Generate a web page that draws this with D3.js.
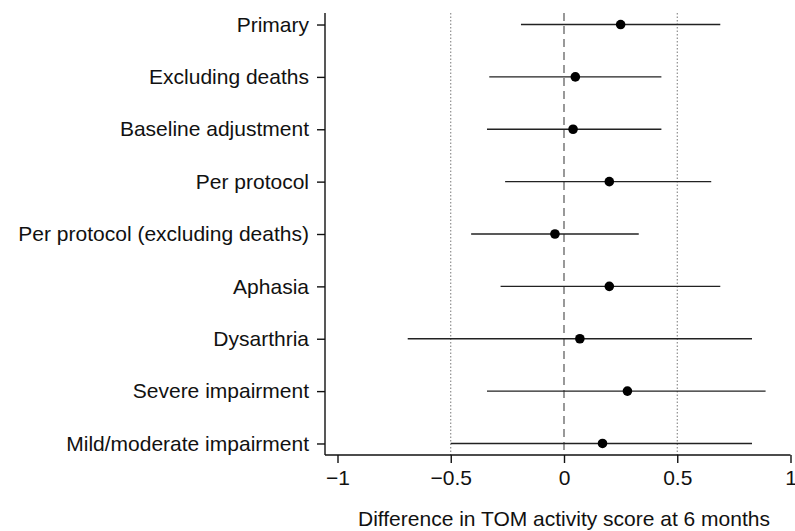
<!DOCTYPE html>
<html>
<head>
<meta charset="utf-8">
<script src="https://cdn.jsdelivr.net/npm/d3@7"></script>
<style>
  body { margin: 0; background: #fff; }
  text { font-family: "Liberation Sans", Arial, sans-serif; fill: #111; }
</style>
</head>
<body>
<div id="chart"></div>
<script>
var labels = ["Primary", "Excluding deaths", "Baseline adjustment", "Per protocol",
    "Per protocol (excluding deaths)", "Aphasia", "Dysarthria", "Severe impairment",
    "Mild/moderate impairment"];
var estimate = [0.25, 0.05, 0.04, 0.20, -0.04, 0.20, 0.07, 0.28, 0.17];
var lower = [-0.19, -0.33, -0.34, -0.26, -0.41, -0.28, -0.69, -0.34, -0.50];
var upper = [0.69, 0.43, 0.43, 0.65, 0.33, 0.69, 0.83, 0.89, 0.83];
var xTicks = [-1, -0.5, 0, 0.5, 1];
var refLines = [-0.5, 0.5];

var W = 795, H = 531;
var fontSize = "21px";
var svg = d3.select("#chart").append("svg")
    .attr("width", W)
    .attr("height", H);

var x = d3.scaleLinear().domain([-1, 1]).range([337.5, 790.5]);
var y = d3.scalePoint().domain(labels).range([13, 455]).padding(0.22);

var rows = labels.map(function(l, i){
    return { label: l, est: estimate[i], lo: lower[i], hi: upper[i] };
});

// reference lines
svg.selectAll(".ref")
    .data(refLines)
    .enter().append("line")
    .attr("class", "ref")
    .attr("x1", function(d){ return x(d); })
    .attr("x2", function(d){ return x(d); })
    .attr("y1", 13).attr("y2", 455)
    .style("stroke", "#777")
    .style("stroke-width", 1)
    .style("stroke-dasharray", "1.5,2");

svg.append("line")
    .attr("x1", x(0)).attr("x2", x(0))
    .attr("y1", 13).attr("y2", 455)
    .style("stroke", "#555")
    .style("stroke-width", 1.2)
    .style("stroke-dasharray", "8,5");

// confidence intervals
svg.selectAll(".ci")
    .data(rows)
    .enter().append("line")
    .attr("class", "ci")
    .attr("x1", function(d){ return x(d.lo); })
    .attr("x2", function(d){ return x(d.hi); })
    .attr("y1", function(d){ return y(d.label); })
    .attr("y2", function(d){ return y(d.label); })
    .style("stroke", "#222")
    .style("stroke-width", 1.4);

svg.selectAll(".pt")
    .data(rows)
    .enter().append("circle")
    .attr("class", "pt")
    .attr("cx", function(d){ return x(d.est); })
    .attr("cy", function(d){ return y(d.label); })
    .attr("r", 4.8)
    .style("fill", "#000");

// axes
var yAxis = svg.append("g")
    .attr("transform", "translate(325,0)")
    .call(d3.axisLeft(y).tickSize(8).tickPadding(8));
yAxis.select(".domain").attr("d", "M0,13V455");

var xAxis = svg.append("g")
    .attr("transform", "translate(0,455)")
    .call(d3.axisBottom(x).tickValues(xTicks).tickSize(8).tickPadding(7)
        .tickFormat(function(d){ return d === 0 ? "0" : d3.format("")(d).replace("-", "\u2013"); }));
xAxis.select(".domain").attr("d", "M325,0H790.5");

svg.selectAll(".domain, .tick line")
    .style("stroke", "#111")
    .style("stroke-width", 1.4);
svg.selectAll(".tick text")
    .style("font-size", fontSize)
    .style("font-family", "'Liberation Sans', Arial, sans-serif")
    .style("fill", "#111");

svg.append("text")
    .attr("x", x(0))
    .attr("y", 526)
    .attr("text-anchor", "middle")
    .style("font-size", fontSize)
    .text("Difference in TOM activity score at 6 months");
</script>
</body>
</html>
